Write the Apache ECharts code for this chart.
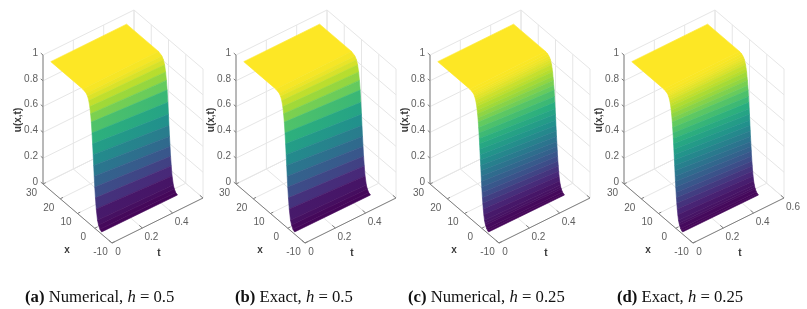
<!DOCTYPE html>
<html>
<head>
<meta charset="utf-8">
<style>html,body{margin:0;padding:0;background:#fff}#c{width:807px;height:309px;filter:blur(0.35px)}</style>
<script src="https://cdn.jsdelivr.net/npm/echarts@6/dist/echarts.min.js"></script>
</head>
<body>
<div id="c"></div>
<script>
// ---- values ----
var xTicks = [-10, 0, 10, 20, 30];
var tTicks = [0, 0.2, 0.4, 0.6];
var uTicks = [0, 0.2, 0.4, 0.6, 0.8, 1];
var tSpan = [0, 0.5];

var xCoarse = [-4,-3,-2.2,-1.6,-0.87,-0.39,0,0.32,0.62,0.93,1.24,1.59,2.0,2.41,2.88,3.47,4.15,5,7,25.5];
var uCoarseStart = [.017,.026,.05,.08,.16,.24,.32,.40,.48,.56,.64,.72,.80,.86,.91,.95,.975,.99,1,1];
var uCoarseEnd   = [.013,.02,.038,.062,.125,.197,.267,.34,.414,.495,.578,.667,.758,.828,.888,.937,.968,.987,1,1];

var xFine = [-4,-3.4,-2.8,-2.2,-1.9,-1.6,-1.2,-0.87,-0.62,-0.39,-0.19,0,0.16,0.32,0.47,0.62,0.77,0.93,1.08,1.24,1.41,1.59,1.79,2.0,2.2,2.41,2.64,2.88,3.15,3.47,3.8,4.15,4.5,5,5.8,7,25.5];
var uFineStart = [.017,.021,.03,.05,.063,.08,.118,.16,.2,.24,.28,.32,.36,.40,.44,.48,.52,.56,.60,.64,.68,.72,.76,.80,.83,.86,.885,.91,.93,.95,.963,.975,.983,.99,.996,1,1];
var uFineEnd   = [.013,.016,.023,.038,.048,.062,.09,.125,.158,.197,.23,.267,.305,.34,.375,.414,.455,.495,.535,.578,.62,.667,.71,.758,.79,.828,.855,.888,.91,.937,.953,.968,.978,.987,.995,1,1];

var captions = [
  {tag:'(a)', name:' Numerical, ', h:'0.5', left:25},
  {tag:'(b)', name:' Exact, ',     h:'0.5', left:235},
  {tag:'(c)', name:' Numerical, ', h:'0.25', left:408},
  {tag:'(d)', name:' Exact, ',     h:'0.25', left:617}
];
var panels = [
  {left:0,   x:xCoarse, a:uCoarseStart, b:uCoarseEnd, tLabels:[0,0.2,0.4]},
  {left:193, x:xCoarse, a:uCoarseStart, b:uCoarseEnd, tLabels:[0,0.2,0.4]},
  {left:387, x:xFine,   a:uFineStart,   b:uFineEnd,   tLabels:[0,0.2,0.4]},
  {left:581, x:xFine,   a:uFineStart,   b:uFineEnd,   tLabels:[0,0.2,0.4,0.6]}
];

// ---- view: an orthographic projection of the 3-D box into each hidden cartesian grid ----
var origin = [112, 243], vecX = [-69, -59], vecT = [91, -45], vecU = [0, -129];
var xMin = -10, xRange = 40, tRange = 0.6;
function proj(x, t, u) {
  var a = (x - xMin) / xRange, b = t / tRange;
  return [origin[0] + a * vecX[0] + b * vecT[0] + u * vecU[0],
          origin[1] + a * vecX[1] + b * vecT[1] + u * vecU[1]];
}

var stops = ['#440154','#482878','#3b528b','#2c728e','#21918c','#28ae80','#5ec962','#addc30','#fde725'];
function hex(c){return [parseInt(c.substr(1,2),16),parseInt(c.substr(3,2),16),parseInt(c.substr(5,2),16)];}
function viridis(v){
  v = Math.max(0, Math.min(1, v)) * (stops.length - 1);
  var i = Math.min(stops.length - 2, Math.floor(v)), f = v - i, A = hex(stops[i]), B = hex(stops[i+1]);
  return 'rgb(' + [0,1,2].map(function(k){return Math.round(A[k] + (B[k]-A[k]) * f);}).join(',') + ')';
}

var GRID = '#e6e6e6', AXIS = '#808080', ZAXIS = '#a0a0a0', TXT = '#606060';
var tickFont = '10px "Liberation Sans"', labelFont = 'bold 10px "Liberation Sans"';

// ---- box pieces as 3-D segments ----
function boxLines() {
  var L = [], tMax = tTicks[tTicks.length-1], xHi = xTicks[xTicks.length-1], xLo = xTicks[0];
  function seg(a,b,c,d,e,f,kind){L.push([a,b,c,d,e,f,kind]);}
  xTicks.forEach(function(x){ seg(x,0,0,x,tMax,0,0); seg(x,tMax,0,x,tMax,1,0); });
  tTicks.forEach(function(t){ seg(xLo,t,0,xHi,t,0,0); seg(xHi,t,0,xHi,t,1,0); });
  uTicks.forEach(function(u){ seg(xHi,0,u,xHi,tMax,u,0); seg(xLo,tMax,u,xHi,tMax,u,0); });
  seg(xLo,0,0,xHi,0,0,1);
  seg(xLo,0,0,xLo,tMax,0,1);
  seg(xHi,0,0,xHi,0,1,2);
  xTicks.forEach(function(x){ seg(x,0,0,x,0.018,0,1); });
  tTicks.forEach(function(t){ seg(xLo,t,0,xLo+1.8,t,0,1); });
  uTicks.forEach(function(u){ seg(xHi,0,u,xHi+1.3,0,u,1); });
  return L;
}

var option = {animation:false, backgroundColor:'#fff', grid:[], xAxis:[], yAxis:[], series:[], title:[]};

panels.forEach(function(p, i){
  option.grid.push({left:p.left, top:0, width:226, height:309, show:false});
  option.xAxis.push({type:'value', gridIndex:i, min:0, max:226, show:false});
  option.yAxis.push({type:'value', gridIndex:i, min:0, max:309, inverse:true, show:false});

  // box
  option.series.push({
    type:'custom', coordinateSystem:'cartesian2d', xAxisIndex:i, yAxisIndex:i, silent:true, z:1, clip:false,
    data: boxLines(),
    renderItem:function(params, api){
      var a = api.coord(proj(api.value(0),api.value(1),api.value(2)));
      var b = api.coord(proj(api.value(3),api.value(4),api.value(5)));
      var k = api.value(6);
      return {type:'line', shape:{x1:a[0],y1:a[1],x2:b[0],y2:b[1]},
        style:{stroke:k===0?GRID:(k===1?AXIS:ZAXIS), lineWidth:k===2?1.4:1, fill:null}};
    }
  });

  // surface: one facet per x step, painted back to front
  var quads = [];
  for (var j = p.x.length - 2; j >= 0; j--) {
    quads.push([p.x[j], p.x[j+1], p.a[j], p.a[j+1], p.b[j], p.b[j+1]]);
  }
  option.series.push({
    type:'custom', coordinateSystem:'cartesian2d', xAxisIndex:i, yAxisIndex:i, silent:true, z:2, clip:false,
    data: quads,
    renderItem:function(params, api){
      var x0=api.value(0), x1=api.value(1), a0=api.value(2), a1=api.value(3), b0=api.value(4), b1=api.value(5);
      var t0=tSpan[0], t1=tSpan[1];
      var A=api.coord(proj(x0,t0,a0)), B=api.coord(proj(x1,t0,a1)), C=api.coord(proj(x1,t1,b1)), D=api.coord(proj(x0,t1,b0));
      var grad = new echarts.graphic.LinearGradient(A[0],A[1],D[0],D[1],
        [{offset:0,color:viridis(a0)},{offset:1,color:viridis(b0)}], true);
      return {type:'polygon', shape:{points:[A,B,C,D]}, style:{fill:grad, stroke:grad, lineWidth:0.6}};
    }
  });

  // tick labels and axis names
  var labels = [];
  uTicks.forEach(function(u){ labels.push({kind:'u', v:u}); });
  xTicks.forEach(function(x){ labels.push({kind:'x', v:x}); });
  p.tLabels.forEach(function(t){ labels.push({kind:'t', v:t}); });
  labels.push({kind:'nx'},{kind:'nt'},{kind:'nu'});
  option.series.push({
    type:'custom', coordinateSystem:'cartesian2d', xAxisIndex:i, yAxisIndex:i, silent:true, z:3, clip:false,
    data: labels.map(function(l,n){ return {value:[n], item:l}; }),
    renderItem:function(params, api){
      var l = labels[params.dataIndex], pos, o = {align:'center', font:tickFont, fill:TXT, text:String(l.v), rot:0};
      if (l.kind==='u'){ pos = proj(30,0,l.v); pos=[pos[0]-5,pos[1]-2]; o.align='right'; }
      else if (l.kind==='x'){ pos = proj(l.v,0,0); pos=[pos[0]-11.5,pos[1]+9]; }
      else if (l.kind==='t'){ pos = proj(-10,l.v,0); pos=[pos[0]+(l.v===0?6:9),pos[1]+9.5]; }
      else if (l.kind==='nx'){ pos=[67,250]; o.text='x'; o.font=labelFont; o.fill='#3a3a3a'; }
      else if (l.kind==='nt'){ pos=[159,253]; o.text='t'; o.font=labelFont; o.fill='#3a3a3a'; }
      else { pos=[18,120]; o.text='u(x,t)'; o.font=labelFont; o.fill='#3a3a3a'; o.rot=Math.PI/2; }
      var c = api.coord(pos);
      return {type:'text', x:c[0], y:c[1], rotation:o.rot,
        style:{x:0,y:0,text:o.text,font:o.font,fill:o.fill,textAlign:o.align,textVerticalAlign:'middle'}};
    }
  });

  var cap = captions[i];
  option.title.push({
    left:cap.left, top:289.5, padding:0, itemGap:0,
    text:'{b|'+cap.tag+'}'+'{n|'+cap.name+'}{i|h}{n| = '+cap.h+'}',
    textStyle:{fontFamily:'Liberation Serif', fontSize:16.7, fontWeight:'normal', color:'#111',
      rich:{
        b:{fontFamily:'Liberation Serif', fontSize:16.7, fontWeight:'bold', color:'#111'},
        n:{fontFamily:'Liberation Serif', fontSize:16.7, color:'#111'},
        i:{fontFamily:'Liberation Serif', fontSize:16.7, fontStyle:'italic', color:'#111'}
      }}
  });
});

var chart = echarts.init(document.getElementById('c'), null, {renderer:'canvas'});
chart.setOption(option);
</script>
</body>
</html>
